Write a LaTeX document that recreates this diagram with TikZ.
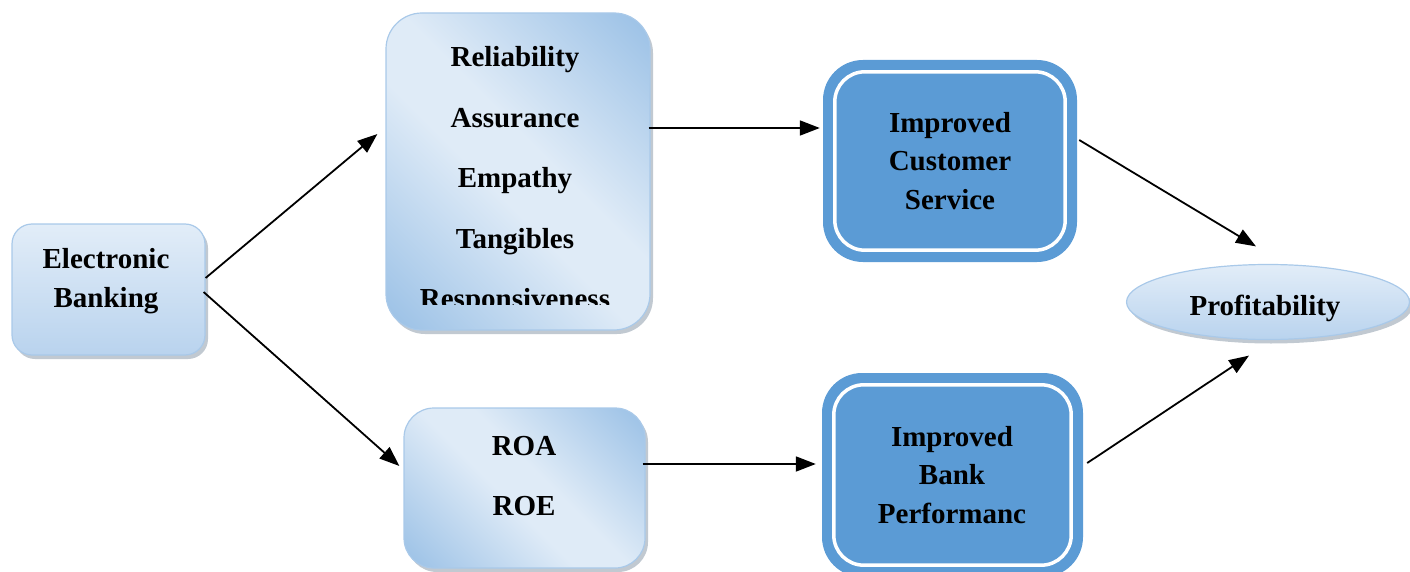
\documentclass[tikz,border=0pt]{standalone}
\usepackage{fontspec}
\setmainfont{Liberation Serif}
\usetikzlibrary{arrows.meta,shapes.geometric,shadows}

\definecolor{bdark}{HTML}{93BCE4}
\definecolor{blight}{HTML}{DFEBF7}
\definecolor{btop}{HTML}{E2EDF8}
\definecolor{bbot}{HTML}{B9D3EE}
\definecolor{bedge}{HTML}{A9C9E9}
\definecolor{bfill}{HTML}{5B9BD5}
\definecolor{shadowc}{HTML}{8E9CAB}

\pgfdeclarehorizontalshading{diagband}{100bp}{color(0bp)=(bdark); color(12bp)=(bdark); color(45bp)=(blight); color(55bp)=(blight); color(88bp)=(bdark); color(100bp)=(bdark)}

\tikzset{
  softshadow/.style={drop shadow={shadow xshift=3pt, shadow yshift=-4pt, fill=shadowc, opacity=0.55}},
  lightbox/.style={draw=bedge, line width=1.2pt, rounded corners=#1, softshadow},
  vbox/.style={lightbox=#1, top color=btop, bottom color=bbot},
  dbox/.style={lightbox=#1, shading=diagband, shading angle=45},
  bluebox/.style={fill=bfill, rounded corners=40pt, inner sep=0pt},
  innerline/.style={draw=white, line width=3.5pt, rounded corners=30pt},
  txt/.style={font=\fontsize{29}{38.5}\selectfont\bfseries, align=center, inner sep=0pt},
  listtxt/.style={font=\fontsize{29}{60.5}\selectfont\bfseries, align=center, inner sep=0pt},
  arr/.style={line width=1.8pt, -{Triangle[length=20pt,width=15pt]}}
}

\begin{document}
\begin{tikzpicture}[x=1pt,y=1pt]
\useasboundingbox (0,0) rectangle (1410,-572);

% left input box
\node[vbox=20pt, minimum width=193pt, minimum height=131pt] (eb) at (108.5,-289.5) {};
\node[txt] (ebt) at (106,-281) {Electronic\\Banking};

% service quality dimensions
\node[dbox=36pt, minimum width=264pt, minimum height=317pt] (rel) at (518,-171.5) {};
\begin{scope}
  \clip (386,-13) rectangle (650,-304);
  \node[listtxt] (relt) at (515,-181) {Reliability\\Assurance\\Empathy\\Tangibles\\Responsiveness};
\end{scope}

% financial ratios
\node[dbox=30pt, minimum width=241pt, minimum height=160pt] (roa) at (524.5,-488) {};
\node[listtxt] (roat) at (524,-476) {ROA\\ROE};

% outcome boxes
\node[bluebox, minimum width=254pt, minimum height=202pt] (ics) at (950,-161) {};
\draw[innerline] ([shift={(12,-12)}]ics.north west) rectangle ([shift={(-12,12)}]ics.south east);
\node[txt] (icst) at (950,-161) {Improved\\Customer\\Service};

\node[bluebox, minimum width=261pt, minimum height=204pt] (ibp) at (952.5,-475) {};
\draw[innerline] ([shift={(12,-12)}]ibp.north west) rectangle ([shift={(-12,12)}]ibp.south east);
\node[txt] (ibpt) at (952,-475) {Improved\\Bank\\Performanc};

% final outcome
\node[ellipse, draw=bedge, line width=1.2pt, top color=btop, bottom color=bbot, softshadow,
      minimum width=283pt, minimum height=75pt, inner sep=0pt] (prof) at (1268,-302) {};
\node[txt] (proft) at (1265,-308) {Profitability};

% connectors
\draw[arr] ([yshift=11.5pt]eb.east) -- ([xshift=-8pt,yshift=37.5pt]rel.west);
\draw[arr] ([xshift=-2pt,yshift=-2.5pt]eb.east) -- ([xshift=-4pt,yshift=22pt]roa.west);
\draw[arr] ([xshift=-2pt,yshift=43.5pt]rel.east) -- ([xshift=-3pt,yshift=33pt]ics.west);
\draw[arr] ([xshift=-3pt,yshift=24pt]roa.east) -- ([xshift=-6pt,yshift=11pt]ibp.west);
\draw[arr] ([xshift=2pt,yshift=21pt]ics.east) -- ([xshift=-12pt,yshift=17.5pt]prof.north);
\draw[arr] ([xshift=4pt,yshift=12pt]ibp.east) -- ([xshift=-19pt,yshift=-15.5pt]prof.south);
\end{tikzpicture}
\end{document}
